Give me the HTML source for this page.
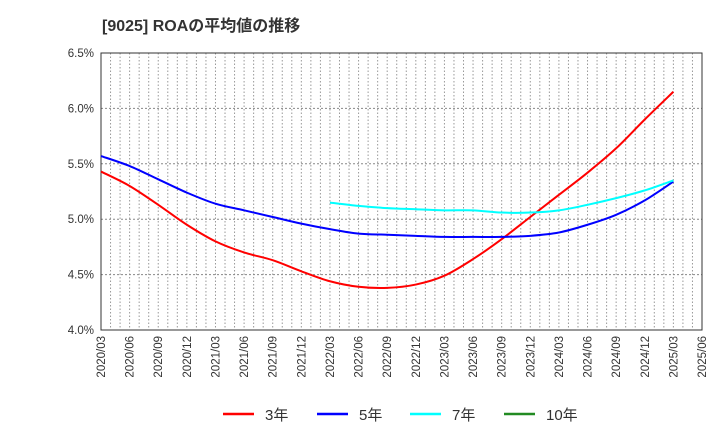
<!DOCTYPE html>
<html><head><meta charset="utf-8"><style>
body{margin:0;background:#fff;font-family:"Liberation Sans","Noto Sans CJK JP",sans-serif;}
</style></head><body>
<svg id="chart" width="720" height="440" xmlns="http://www.w3.org/2000/svg" font-family="Liberation Sans, Noto Sans CJK JP, sans-serif">
<text x="102" y="31" font-size="16" font-weight="bold" fill="#333">[9025]  ROAの平均値の推移</text>
<g id="grid"></g><g id="axes"></g><g id="series"></g>
<g id="legend"></g>
</svg>
<script>
const xLabels=["2020/03","2020/06","2020/09","2020/12","2021/03","2021/06","2021/09","2021/12","2022/03","2022/06","2022/09","2022/12","2023/03","2023/06","2023/09","2023/12","2024/03","2024/06","2024/09","2024/12","2025/03","2025/06"];
const yTicks=[4.0,4.5,5.0,5.5,6.0,6.5];
const s3=[5.43,5.30,5.13,4.95,4.80,4.70,4.63,4.53,4.44,4.39,4.38,4.41,4.49,4.64,4.82,5.02,5.22,5.42,5.64,5.90,6.15];
const s5=[5.57,5.48,5.36,5.24,5.14,5.08,5.02,4.96,4.91,4.87,4.86,4.85,4.84,4.84,4.84,4.85,4.88,4.95,5.04,5.17,5.34];
const s7=[5.15,5.12,5.10,5.09,5.08,5.08,5.06,5.06,5.08,5.13,5.19,5.26,5.35];
const s7Start=8;
const NS="http://www.w3.org/2000/svg";
const L=101,R=702,T=53,B=330;
const xq=i=>L+(R-L)*i/(xLabels.length-1);
const yv=v=>B-(v-4.0)/(6.5-4.0)*(B-T);
function mk(tag,attrs,parent){const e=document.createElementNS(NS,tag);for(const k in attrs)e.setAttribute(k,attrs[k]);parent.appendChild(e);return e;}
const grid=document.getElementById('grid'),axes=document.getElementById('axes'),ser=document.getElementById('series'),leg=document.getElementById('legend');
const nMonths=(xLabels.length-1)*3;
for(let m=1;m<nMonths;m++){const x=L+(R-L)*m/nMonths;const ln=mk('line',{x1:x,x2:x,y1:T,y2:B,stroke:'#999','stroke-dasharray':'1.5,2','stroke-width':1},grid);

}
yTicks.forEach(v=>{const y=yv(v);
if(v>4.0&&v<6.5){const g=mk('line',{x1:L,x2:R,y1:y,y2:y,stroke:'#888','stroke-dasharray':'2,2','stroke-width':1},grid);

}
const t=mk('text',{x:L-7,y:y+4,'font-size':11.5,'text-anchor':'end',fill:'#333'},axes);t.textContent=v.toFixed(1)+'%';

});
xLabels.forEach((lb,i)=>{const x=xq(i);const t=mk('text',{x:x+4,y:B+6,'font-size':11.5,'text-anchor':'end',fill:'#333',transform:`rotate(-90 ${x+4} ${B+6})`},axes);t.textContent=lb;

});
const fr=mk('rect',{x:L,y:T,width:R-L,height:B-T,fill:'none',stroke:'#333','stroke-width':1},axes);


function smoothPath(arr,start){const P=arr.map((v,i)=>[xq(i+start),yv(v)]);let d='M'+P[0][0]+','+P[0][1];
for(let i=0;i<P.length-1;i++){const p0=P[Math.max(0,i-1)],p1=P[i],p2=P[i+1],p3=P[Math.min(P.length-1,i+2)];
const c1=[p1[0]+(p2[0]-p0[0])/6,p1[1]+(p2[1]-p0[1])/6],c2=[p2[0]-(p3[0]-p1[0])/6,p2[1]-(p3[1]-p1[1])/6];
d+=` C${c1[0]},${c1[1]} ${c2[0]},${c2[1]} ${p2[0]},${p2[1]}`;}return d;}
function line(arr,start,color,name){
const p=mk('path',{d:smoothPath(arr,start),fill:'none',stroke:color,'stroke-width':2,'stroke-linejoin':'round'},ser);

}
line(s3,0,'#ff0000','series-3yr');
line(s5,0,'#0000ff','series-5yr');
line(s7,s7Start,'#00ffff','series-7yr');
const legItems=[["3年","#ff0000",223],["5年","#0000ff",317],["7年","#00ffff",410],["10年","#228b22",504]];
legItems.forEach(([lb,c,x])=>{const g=mk('g',{},leg);


mk('line',{x1:x,x2:x+31,y1:414,y2:414,stroke:c,'stroke-width':2.5},g);
const t=mk('text',{x:x+42,y:420,'font-size':15,fill:'#333'},g);t.textContent=lb;});
</script>
</body></html>
